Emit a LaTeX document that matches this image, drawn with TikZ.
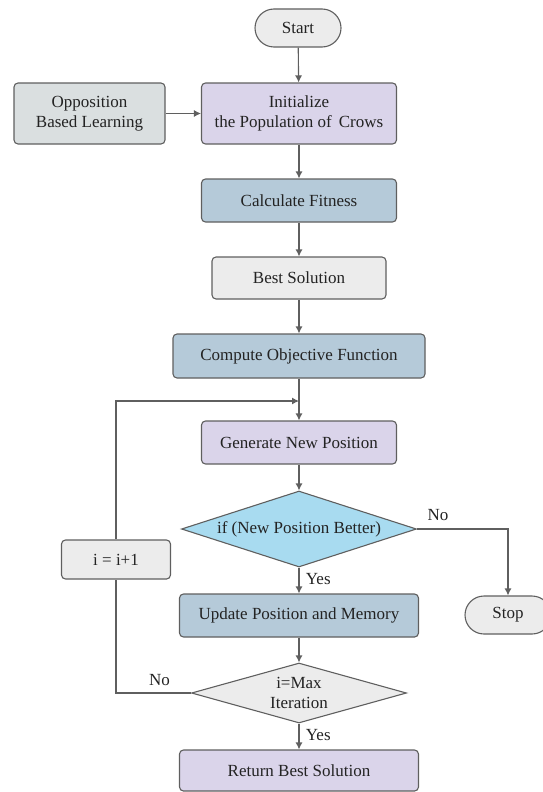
\documentclass[tikz,border=0pt]{standalone}
\usepackage{fontspec}
\setmainfont{Liberation Serif}
\usetikzlibrary{shapes.geometric,shapes.misc,arrows.meta}
\definecolor{crowpurple}{RGB}{218,212,234}
\definecolor{crowsteel}{RGB}{181,202,217}
\definecolor{crowgray}{RGB}{236,236,236}
\definecolor{crowsage}{RGB}{218,223,224}
\definecolor{crowsky}{RGB}{168,219,240}
\definecolor{crowline}{RGB}{95,95,95}
\definecolor{crowtext}{RGB}{35,35,35}
\begin{document}
\begin{tikzpicture}[x=1pt,y=-1pt,
        font=\fontsize{17}{19.5}\selectfont,text=crowtext,
        box/.style={draw=crowline,line width=1.1pt,rounded corners=4pt,align=center,inner sep=0pt},
        term/.style={draw=crowline,line width=1.1pt,rounded rectangle,fill=crowgray,inner sep=0pt,minimum width=86pt,minimum height=38pt},
        cond/.style={draw=crowline,line width=1.1pt,diamond,align=center,inner sep=0pt},
        flow/.style={draw=crowline,line width=1.1pt,-{Latex[length=7pt,width=7pt]}},
        tag/.style={font=\fontsize{17}{19.5}\selectfont}]
        \useasboundingbox (0,0) rectangle (543,792);
        \node[term] (start) at (298,28) {Start};
        \node[box,fill=crowsage,minimum width=151pt,minimum height=61pt] (obl) at (89.5,113.5) {Opposition\\Based Learning};
        \node[box,fill=crowpurple,minimum width=195pt,minimum height=61pt] (init) at (299,113.5) {Initialize\\the Population of\, Crows};
        \node[box,fill=crowsteel,minimum width=195pt,minimum height=43pt] (fit) at (299,200.5) {Calculate Fitness};
        \node[box,fill=crowgray,minimum width=174pt,minimum height=42pt] (best) at (299,278) {Best Solution};
        \node[box,fill=crowsteel,minimum width=252pt,minimum height=44pt] (obj) at (299,356) {Compute Objective Function};
        \node[box,fill=crowpurple,minimum width=195pt,minimum height=43pt] (gen) at (299,442.5) {Generate New Position};
        \node[cond,fill=crowsky,minimum width=235pt,minimum height=76pt,aspect=3.1] (better) at (299,529) {if (New Position Better)};
        \node[box,fill=crowgray,minimum width=109pt,minimum height=39pt] (inc) at (116,559.5) {i = i+1};
        \node[box,fill=crowsteel,minimum width=239pt,minimum height=43pt] (upd) at (299,615.5) {Update Position and Memory};
        \node[term] (stop) at (508,615) {Stop};
        \node[cond,fill=crowgray,minimum width=215pt,minimum height=60pt,aspect=3.6] (maxit) at (299,693) {i=Max\\Iteration};
        \node[box,fill=crowpurple,minimum width=239pt,minimum height=41pt] (ret) at (299,770.5) {Return Best Solution};
        \coordinate (join) at (299,401);
        \draw[flow] (start) -- (init);
        \draw[flow] (obl) -- (init);
        \draw[flow] (init) -- (fit);
        \draw[flow] (fit) -- (best);
        \draw[flow] (best) -- (obj);
        \draw[flow] (obj) -- (gen);
        \draw[flow] (gen) -- (better);
        \draw[flow] (better) -- node[tag,right,pos=0.45,xshift=3pt] {Yes} (upd);
        \draw[flow] (better.east) -| node[tag,pos=0.115,above,yshift=4pt] {No} (stop.north);
        \draw[flow] (upd) -- (maxit);
        \draw[flow] (maxit) -- node[tag,right,pos=0.45,xshift=3pt] {Yes} (ret);
        \draw[draw=crowline,line width=1.1pt] (maxit.west) -| node[tag,pos=0.21,above,yshift=3pt] {No} (inc.south);
        \draw[flow] (inc.north) |- (join);
    \end{tikzpicture}
\end{document}
